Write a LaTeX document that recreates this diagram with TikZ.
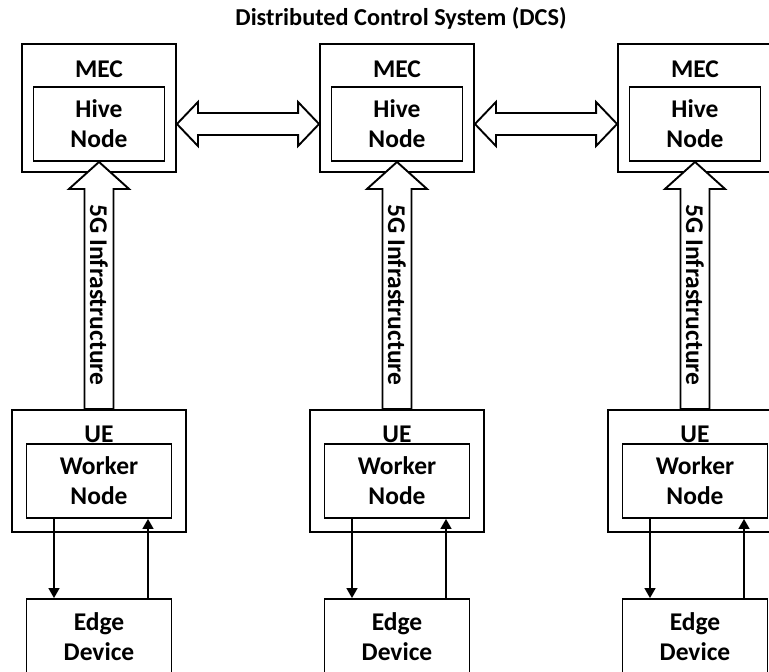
\documentclass[tikz,border=0pt]{standalone}
\usepackage{fontspec}
\setmainfont{Carlito}
\usetikzlibrary{positioning, arrows.meta, calc}

\begin{document}
\begin{tikzpicture}[
    x=1pt, y=-1pt,
    outerBox/.style={draw=black, line width=1.9pt, rectangle, fill=white, inner sep=0pt},
    innerBox/.style={draw=black, line width=1.9pt, rectangle, fill=white, align=center, font=\fontsize{25.5}{30}\selectfont\bfseries, inner sep=0pt, minimum width=145pt, minimum height=74pt},
    boxLabel/.style={font=\fontsize{25.5}{30}\selectfont\bfseries, inner sep=0pt},
    blockArrow/.style={draw=black, line width=1.9pt, fill=white, line join=miter},
    linkArrow/.style={draw=black, line width=1.6pt, -{Triangle[length=10pt, width=11pt]}},
]
\useasboundingbox (0,0) rectangle (769,672);
\node[boxLabel, font=\fontsize{24.3}{28}\selectfont\bfseries] (title) at (401,18) {Distributed Control System (DCS)};

\foreach \i/\c in {1/99, 2/397, 3/695} {
    \node[outerBox, minimum width=154pt, minimum height=128pt] (mec\i) at (\c,108) {};
    \node[boxLabel] (mecLbl\i) at (\c,69) {MEC};
    \node[innerBox, minimum width=131pt] (hive\i) at (\c,124) {Hive\\Node};
    \node[outerBox, minimum width=174pt, minimum height=122pt] (ue\i) at (\c,471) {};
    \node[boxLabel] (ueLbl\i) at (\c,434) {UE};
    \node[innerBox] (worker\i) at (\c,481) {Worker\\Node};
    \node[innerBox, minimum height=75pt] (edge\i) at (\c,636.5) {Edge\\Device};
    % uplink over 5G
    \draw[blockArrow] (hive\i.south) -- ++(30,27) -- ++(-15.5,0) -- ($(ue\i.north)+(14.5,0)$)
        -- ($(ue\i.north)+(-14.5,0)$) -- ($(hive\i.south)+(-14.5,27)$) -- ++(-15.5,0) -- cycle;
    \node[boxLabel, rotate=-90] (fiveG\i) at (\c,295) {5G Infrastructure};
    \draw[linkArrow] ($(worker\i.south)+(-45,0)$) -- ($(edge\i.north)+(-45,0)$);
    \draw[linkArrow] ($(edge\i.north)+(49,0)$) -- ($(worker\i.south)+(49,0)$);
}

% links between hive nodes
\foreach \a/\b in {1/2, 2/3}
    \draw[blockArrow] (hive\a -| mec\a.east) -- ++(21,-22) -- ++(0,11) -- ($(hive\b -| mec\b.west)+(-21,-11)$)
        -- ++(0,-11) -- (hive\b -| mec\b.west) -- ++(-21,22) -- ++(0,-11)
        -- ($(hive\a -| mec\a.east)+(21,11)$) -- ++(0,11) -- cycle;
\end{tikzpicture}
\end{document}
